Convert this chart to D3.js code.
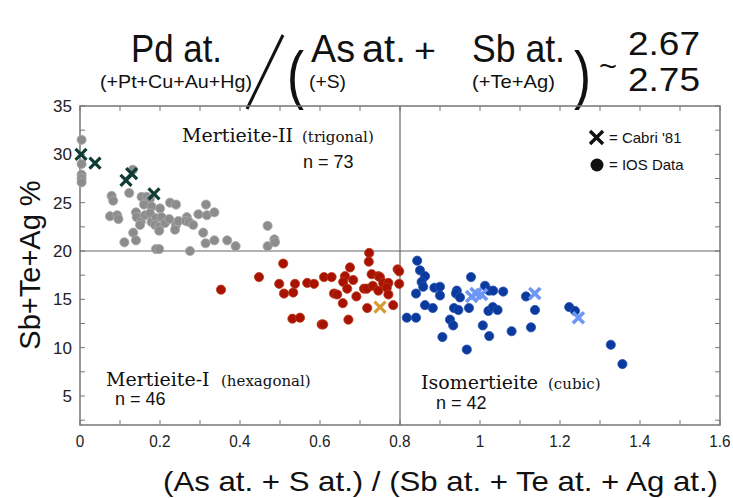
<!DOCTYPE html>
<html>
<head>
<meta charset="utf-8">
<script src="https://cdn.jsdelivr.net/npm/d3@7"></script>
<style>
  body { margin: 0; background: #fff; }
  svg { display: block; }
  .sans { font-family: "Liberation Sans", Arial, sans-serif; }
  .serif { font-family: "DejaVu Serif", "Liberation Serif", serif; }
</style>
</head>
<body>
<div id="chart"></div>
<script>
// IOS data, one array per phase: [ (As+S)/(Sb+Te+Ag), Sb+Te+Ag % ]
const mertieiteII = [
  [0.004, 31.5], [0.004, 29.0], [0.004, 27.9], [0.004, 27.5], [0.004, 27.1],
  [0.079, 25.7], [0.083, 25.2], [0.075, 23.6], [0.093, 23.7], [0.096, 23.3],
  [0.123, 26.0], [0.132, 28.4], [0.111, 20.9], [0.133, 21.9], [0.14, 21.1],
  [0.154, 25.6], [0.167, 25.6], [0.175, 25.4], [0.16, 24.8], [0.179, 24.6],
  [0.14, 24.0], [0.142, 23.5], [0.152, 23.0], [0.15, 22.7], [0.1625, 23.7],
  [0.175, 23.9], [0.179, 23.0], [0.19, 23.4], [0.1875, 22.7], [0.198, 22.5],
  [0.198, 22.1], [0.2, 24.4], [0.204, 23.5], [0.2125, 22.9], [0.223, 23.3],
  [0.19, 20.2], [0.198, 20.2], [0.225, 25.0], [0.24, 24.8], [0.24, 22.7],
  [0.2375, 22.2], [0.246, 23.1], [0.267, 23.5], [0.265, 23.1], [0.273, 23.0],
  [0.283, 22.7], [0.296, 23.8], [0.275, 20.0], [0.315, 24.8], [0.317, 23.7],
  [0.336, 24.0], [0.308, 21.9], [0.314, 20.8], [0.336, 21.1], [0.368, 21.1],
  [0.389, 20.5], [0.469, 22.6], [0.469, 20.5], [0.486, 21.2], [0.4875, 20.9],
];
const mertieiteI = [
  [0.3525, 16.0], [0.4475, 17.3], [0.508, 18.7], [0.498, 16.6], [0.51, 15.6],
  [0.533, 15.7], [0.5375, 16.6], [0.531, 13.0], [0.55, 13.1], [0.568, 16.7],
  [0.585, 16.6], [0.61, 17.3], [0.629, 17.3], [0.604, 12.4], [0.608, 12.4],
  [0.635, 15.6], [0.643, 15.5], [0.657, 14.6], [0.6625, 17.4], [0.658, 16.8],
  [0.675, 18.3], [0.668, 16.1], [0.683, 17.0], [0.691, 15.3], [0.671, 12.9],
  [0.723, 19.8], [0.722, 18.9], [0.729, 17.6], [0.71, 16.1], [0.717, 16.1],
  [0.732, 16.4], [0.718, 14.1], [0.746, 17.4], [0.75, 17.3], [0.746, 15.9],
  [0.758, 16.7], [0.771, 16.7], [0.767, 16.2], [0.771, 15.5], [0.783, 14.4],
  [0.794, 18.1], [0.798, 17.9], [0.798, 16.6],
];
const isomertieite = [
  [0.843, 19.0], [0.85, 18.0], [0.8625, 17.4], [0.854, 16.8], [0.858, 16.3],
  [0.84, 15.6], [0.817, 13.1], [0.84, 13.1], [0.8625, 14.4], [0.882, 14.1],
  [0.886, 16.2], [0.9, 16.3], [0.9, 15.4], [0.906, 11.1], [0.925, 12.9],
  [0.933, 12.3], [0.935, 14.1], [0.946, 13.9], [0.942, 15.9], [0.94, 15.6],
  [0.95, 15.2], [0.967, 9.8], [0.9725, 14.1], [0.9775, 17.3], [1.007, 12.3],
  [1.0125, 16.4], [1.023, 11.2], [1.021, 13.8], [1.032, 14.2], [1.044, 13.9],
  [1.023, 15.9], [1.033, 15.9], [1.058, 15.8], [1.079, 11.7], [1.115, 15.3],
  [1.1275, 12.1], [1.1375, 13.9], [1.223, 14.2], [1.2375, 13.8], [1.327, 10.3],
  [1.356, 8.3],
];

// Cabri '81 analyses
const cabriII = [[0.0025, 30.0], [0.0375, 29.1], [0.115, 27.3], [0.129, 28.0], [0.185, 25.9]];
const cabriI = [[0.75, 14.2]];
const cabriIso = [[0.979, 15.3], [0.99, 15.6], [1.004, 15.5], [1.137, 15.6], [1.246, 13.1]];

const xTickLabels = [0, 0.2, 0.4, 0.6, 0.8, 1, 1.2, 1.4, 1.6];
const yTickLabels = [5, 10, 15, 20, 25, 30, 35];
const xDomain = [0, 1.6];
const yDomain = [2, 35];
const xSplit = 0.8;
const ySplit = 20;

const width = 733;
const height = 498;
const margin = { top: 106, right: 13, bottom: 73, left: 80 };
const r = 4.6;
const crossSize = 5.5;

const x = d3.scaleLinear().domain(xDomain).range([margin.left, width - margin.right]);
const y = d3.scaleLinear().domain(yDomain).range([height - margin.bottom, margin.top]);

const svg = d3.select("#chart").append("svg")
  .attr("width", width)
  .attr("height", height)
  .attr("viewBox", [0, 0, width, height]);

// --- formula title ---
const title = svg.append("g").attr("class", "sans").attr("fill", "#111");
function narrow(g, txt, x0, yb, size, len) {
  g.append("text")
    .attr("x", x0).attr("y", yb)
    .attr("font-size", size)
    .attr("textLength", len)
    .attr("lengthAdjust", "spacingAndGlyphs")
    .text(txt);
}
narrow(title, "Pd at.", 131, 62, 38, 91);
narrow(title, "(+Pt+Cu+Au+Hg)", 100, 88, 19, 152);
title.append("line")
  .attr("x1", 283).attr("y1", 35).attr("x2", 247).attr("y2", 109)
  .attr("stroke", "#111").attr("stroke-width", 3);
narrow(title, "(", 287, 97, 64, 17);
narrow(title, "As", 311, 62, 38, 44);
narrow(title, "at.", 362, 62, 38, 44);
narrow(title, "+", 414, 62, 34, 22);
narrow(title, "(+S)", 309, 88, 19, 37);
narrow(title, "Sb at.", 472, 62, 38, 93);
narrow(title, "(+Te+Ag)", 472, 88, 19, 83);
narrow(title, ")", 574, 97, 64, 17);
narrow(title, "~", 599, 76, 30, 18);
narrow(title, "2.67", 628, 55, 34, 72);
narrow(title, "2.75", 628, 91, 34, 72);

// --- frame and ticks ---
const plot = svg.append("g");
const axisColor = "#777";

const minorX = d3.range(0, 1.6001, 0.1);
const minorY = d3.range(2.5, 35.001, 2.5).filter((d) => d >= yDomain[0]);
const tickLen = 5;

const ticks = plot.append("g").attr("stroke", axisColor).attr("stroke-width", 1);
ticks.selectAll(".tb").data(minorX).join("line")
  .attr("x1", (d) => x(d)).attr("x2", (d) => x(d))
  .attr("y1", y(yDomain[0])).attr("y2", y(yDomain[0]) - tickLen);
ticks.selectAll(".tt").data(minorX).join("line")
  .attr("x1", (d) => x(d)).attr("x2", (d) => x(d))
  .attr("y1", y(yDomain[1])).attr("y2", y(yDomain[1]) + tickLen);
ticks.selectAll(".tl").data(minorY).join("line")
  .attr("x1", x(xDomain[0])).attr("x2", x(xDomain[0]) + tickLen)
  .attr("y1", (d) => y(d)).attr("y2", (d) => y(d));
ticks.selectAll(".tr").data(minorY).join("line")
  .attr("x1", x(xDomain[1])).attr("x2", x(xDomain[1]) - tickLen)
  .attr("y1", (d) => y(d)).attr("y2", (d) => y(d));

// split lines
plot.append("line")
  .attr("x1", x(xSplit)).attr("x2", x(xSplit))
  .attr("y1", y(yDomain[0])).attr("y2", y(yDomain[1]))
  .attr("stroke", "#666").attr("stroke-width", 1.2);
plot.append("line")
  .attr("x1", x(xDomain[0])).attr("x2", x(xDomain[1]))
  .attr("y1", y(ySplit)).attr("y2", y(ySplit))
  .attr("stroke", "#666").attr("stroke-width", 1.2);

plot.append("rect")
  .attr("x", x(xDomain[0])).attr("y", y(yDomain[1]))
  .attr("width", x(xDomain[1]) - x(xDomain[0]))
  .attr("height", y(yDomain[0]) - y(yDomain[1]))
  .attr("fill", "none").attr("stroke", axisColor).attr("stroke-width", 1.5);

// tick labels
const labels = svg.append("g").attr("class", "sans").attr("fill", "#222").attr("font-size", 17);
labels.selectAll(".xl").data(xTickLabels).join("text")
  .attr("x", (d) => x(d)).attr("y", 447)
  .attr("text-anchor", "middle")
  .attr("transform", (d) => `translate(${x(d)},0) scale(0.9,1) translate(${-x(d)},0)`)
  .text((d) => d);
labels.selectAll(".yl").data(yTickLabels).join("text")
  .attr("x", 72).attr("y", (d) => y(d)).attr("dy", "0.35em")
  .attr("text-anchor", "end")
  .text((d) => d);

// axis titles
svg.append("text").attr("class", "sans")
  .attr("x", 163).attr("y", 491)
  .attr("font-size", 28)
  .attr("textLength", 555).attr("lengthAdjust", "spacingAndGlyphs")
  .attr("fill", "#111")
  .text("(As at. + S at.) / (Sb at. + Te at. + Ag at.)");
svg.append("text").attr("class", "sans")
  .attr("transform", `translate(40,${265}) rotate(-90)`)
  .attr("text-anchor", "middle")
  .attr("font-size", 29)
  .attr("fill", "#111")
  .text("Sb+Te+Ag %");

// --- points ---
function dots(data, fill, stroke) {
  plot.append("g").selectAll("circle").data(data).join("circle")
    .attr("cx", (d) => x(d[0])).attr("cy", (d) => y(d[1]))
    .attr("r", r)
    .attr("fill", fill)
    .attr("stroke", stroke).attr("stroke-width", 0.8);
}
function crosses(data, color, sw) {
  const g = plot.append("g").attr("stroke", color).attr("stroke-width", sw).attr("stroke-linecap", "butt");
  g.selectAll("path").data(data).join("path")
    .attr("d", (d) => {
      const cx = x(d[0]), cy = y(d[1]), s = crossSize;
      return `M${cx - s},${cy - s}L${cx + s},${cy + s}M${cx - s},${cy + s}L${cx + s},${cy - s}`;
    });
}
dots(mertieiteII, "#8c8c8c", "#ababab");
dots(mertieiteI, "#a81200", "#b83a1c");
dots(isomertieite, "#0a3a9e", "#2a54b0");
crosses(cabriII, "#0f3d34", 3.2);
crosses(cabriI, "#d99a34", 3.2);
crosses(cabriIso, "#6e96f4", 3.6);

// --- field annotations ---
const notes = svg.append("g").attr("fill", "#111");
function field(name, sub, nText, xName, yName, xSub, xN, yN) {
  notes.append("text").attr("class", "serif").attr("x", xName).attr("y", yName)
    .attr("font-size", 19).text(name);
  notes.append("text").attr("class", "serif").attr("x", xSub).attr("y", yName)
    .attr("font-size", 15).text(sub);
  notes.append("text").attr("class", "sans").attr("x", xN).attr("y", yN)
    .attr("font-size", 18).text(nText);
}
field("Mertieite-II", "(trigonal)", "n = 73", 182, 142, 302, 303, 168);
field("Mertieite-I", "(hexagonal)", "n = 46", 106, 386, 221, 115, 405);
field("Isomertieite", "(cubic)", "n = 42", 421, 389, 548, 436, 409);

// legend
const legend = svg.append("g").attr("class", "sans").attr("font-size", 15).attr("fill", "#111");
legend.append("path")
  .attr("d", "M590,131L603,144M590,144L603,131")
  .attr("stroke", "#111").attr("stroke-width", 3.4);
legend.append("text").attr("x", 609).attr("y", 143).text("= Cabri '81");
legend.append("circle").attr("cx", 597).attr("cy", 165).attr("r", 6.5).attr("fill", "#111");
legend.append("text").attr("x", 609).attr("y", 170).text("= IOS Data");
</script>
</body>
</html>
